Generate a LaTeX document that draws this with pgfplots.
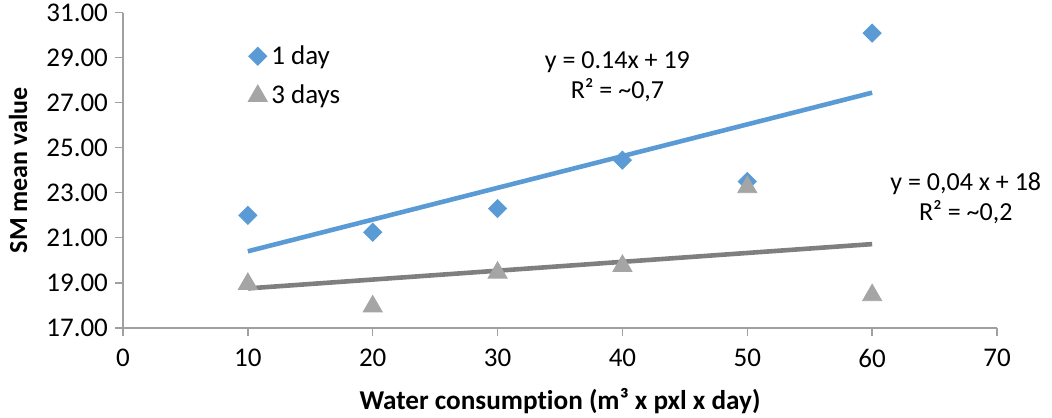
\documentclass[border=0pt]{standalone}
\usepackage{fontspec}
\setmainfont{Carlito}[Ligatures=NoCommon]
\usepackage{pgfplots}
\pgfplotsset{compat=1.18}

\definecolor{oneday}{HTML}{5B9BD5}
\definecolor{threedays}{HTML}{A5A5A5}
\definecolor{trendgray}{HTML}{7F7F7F}
\definecolor{axisgray}{HTML}{A0A0A0}

\begin{document}
\begin{tikzpicture}
\begin{axis}[
    at={(0pt,0pt)}, anchor=origin,
    scale only axis,
    width=437pt, height=157.5pt,
    xmin=0, xmax=70, ymin=17, ymax=31,
    xtick={0,10,...,70},
    ytick={17,19,...,31},
    axis x line*=bottom, axis y line*=left,
    axis line style={axisgray, line width=0.7pt, -},
    tick style={axisgray, line width=0.7pt},
    tick align=outside,
    major tick length=4pt,
    /pgf/number format/assume math mode=true,
    yticklabel style={/pgf/number format/fixed, /pgf/number format/fixed zerofill,
        /pgf/number format/precision=2, font=\fontsize{13.5}{15}\selectfont},
    xticklabel style={font=\fontsize{13.5}{15}\selectfont, yshift=-3pt},
    xlabel={\textbf{Water consumption (m³ x pxl x day)}},
    ylabel={\textbf{SM mean value}},
    xlabel style={font=\fontsize{13.6}{15}\selectfont,
        at={(axis description cs:0.5,-0.232)}, anchor=center},
    ylabel style={font=\fontsize{13}{15}\selectfont,
        at={(axis description cs:-0.12,0.5)}, anchor=center},
    clip=false,
    legend style={at={(axis cs:10.0,29.75)}, anchor=north west, draw=none,
        fill=none, font=\fontsize{13.5}{15}\selectfont, row sep=5pt,
        inner sep=0pt},
    legend cell align=left,
]
% 1 day
\addplot[only marks, mark=square*, mark size=3.2pt,
    mark options={rotate=45, fill=oneday, draw=oneday}] coordinates {
    (10,22.0) (20,21.25) (30,22.3) (40,24.45) (50,23.5) (60,30.1)
};
\addlegendentry{1 day}
% 3 days
\addplot[only marks, mark=triangle*, mark size=5.5pt,
    mark options={fill=threedays, draw=threedays}] coordinates {
    (10,18.95) (20,17.95) (30,19.45) (40,19.75) (50,23.25) (60,18.45)
};
\addlegendentry{3 days}
% trend lines
\addplot[oneday, line width=2.3pt, forget plot] coordinates {(10,20.4) (60,27.45)};
\addplot[trendgray, line width=2.3pt, forget plot] coordinates {(10,18.75) (60,20.72)};

\node[align=center, font=\fontsize{13}{15}\selectfont] at (axis cs:39.6,28.14)
    {y = 0.14x + 19\\R² = \textasciitilde0,7};
\node[align=center, font=\fontsize{13}{15}\selectfont] at (axis cs:67.5,22.76)
    {y = 0,04 x + 18\\R² = \textasciitilde0,2};
\end{axis}
\pgfresetboundingbox
\path[use as bounding box] (-61.5pt,-44.6pt) rectangle (464.5pt,163.9pt);
\end{tikzpicture}
\end{document}
